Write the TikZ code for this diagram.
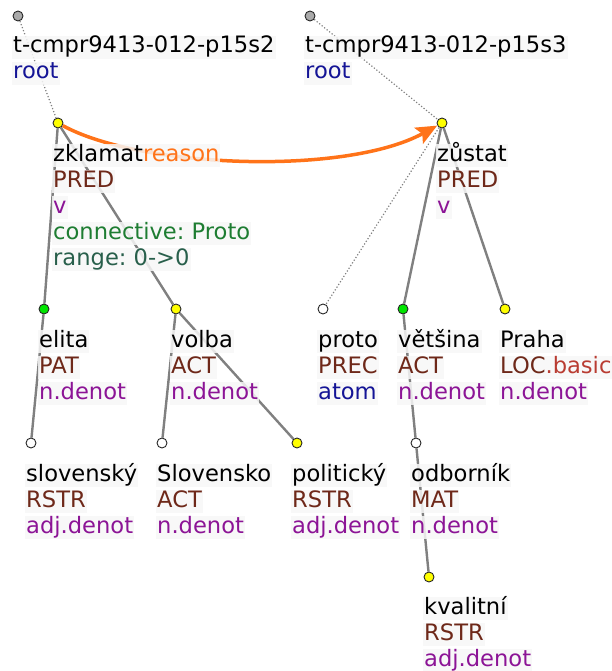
\documentclass[tikz,border=0pt]{standalone}
\usepackage{fontspec}
\setmainfont{DejaVu Sans}
\usetikzlibrary{arrows.meta}
\definecolor{func}{RGB}{110,40,25}
\definecolor{funcsub}{RGB}{185,60,50}
\definecolor{sem}{RGB}{140,20,150}
\definecolor{rootc}{RGB}{20,20,150}
\definecolor{conn}{RGB}{30,125,50}
\definecolor{rng}{RGB}{40,95,75}
\definecolor{orng}{RGB}{255,115,25}
\definecolor{edgec}{RGB}{128,128,128}
\definecolor{ydot}{RGB}{255,255,0}
\definecolor{gdot}{RGB}{0,230,0}
\definecolor{rdot}{RGB}{170,170,170}
\definecolor{bgl}{RGB}{247,247,247}
\pgfdeclarelayer{edges}
\pgfdeclarelayer{labels}
\pgfsetlayers{edges,labels,main}
\frenchspacing
\begin{document}
\begin{tikzpicture}[x=1pt,y=-1pt,
  every node/.style={font=\fontsize{22.6}{26}\selectfont},
  lbl/.style={anchor=base west, inner xsep=1pt, inner ysep=0pt, text height=17pt, text depth=6pt, fill=bgl, fill opacity=0.85, text opacity=1},
  dot/.style={circle, draw=black!85, line width=0.9pt, minimum size=10pt, inner sep=0pt},
  tedge/.style={draw=edgec, line width=2.4pt},
  dedge/.style={draw=edgec, line width=1.2pt, dotted},
  rarrow/.style={draw=orng, line width=3.5pt, -{Stealth[length=21pt,width=18pt,inset=4pt]}}
]
\useasboundingbox (0,0) rectangle (612,671);

% dots
\node[dot, fill=rdot] (r1) at (18,16) {};
\node[dot, fill=rdot] (r2) at (310,16) {};
\node[dot, fill=ydot] (zk) at (58,123) {};
\node[dot, fill=ydot] (zu) at (442,123) {};
\node[dot, fill=gdot] (el) at (44,309) {};
\node[dot, fill=ydot] (vo) at (176,309) {};
\node[dot, fill=white] (pr) at (323,309) {};
\node[dot, fill=gdot] (ve) at (403,309) {};
\node[dot, fill=ydot] (ph) at (505,309) {};
\node[dot, fill=white] (sl) at (31,443) {};
\node[dot, fill=white] (so) at (162,443) {};
\node[dot, fill=ydot] (po) at (297,443) {};
\node[dot, fill=white] (od) at (416,443) {};
\node[dot, fill=ydot] (kv) at (429,577) {};

\begin{pgfonlayer}{edges}
\draw[dedge] (r1) -- (zk);
\draw[dedge] (r2) -- (zu);
\draw[dedge] (zu) -- (pr);
\draw[tedge] (zk) -- (el);
\draw[tedge] (zk) -- (vo);
\draw[tedge] (el) -- (sl);
\draw[tedge] (vo) -- (so);
\draw[tedge] (vo) -- (po);
\draw[tedge] (zu) -- (ve);
\draw[tedge] (zu) -- (ph);
\draw[tedge] (ve) -- (od);
\draw[tedge] (od) -- (kv);
\draw[rarrow] (zk) .. controls (140,168) and (345,176) .. (zu);
\end{pgfonlayer}

\begin{pgfonlayer}{labels}
% roots
\node[lbl] (r1a) at (12,53) {t-cmpr9413-012-p15s2};
\node[lbl, text=rootc] (r1b) at (12,79) {root};
\node[lbl] (r2a) at (304,53) {t-cmpr9413-012-p15s3};
\node[lbl, text=rootc] (r2b) at (304,79) {root};
% zklamat
\node[lbl] (zka) at (52,161) {zklamat{\color{orng}reason}};
\node[lbl, text=func] (zkb) at (52,187) {PRED};
\node[lbl, text=sem] (zkc) at (52,213) {v};
\node[lbl, text=conn] (zkd) at (52,239) {connective: Proto};
\node[lbl, text=rng] (zke) at (52,265) {range: 0->0};
% zustat
\node[lbl] (zua) at (436,161) {zůstat};
\node[lbl, text=func] (zub) at (436,187) {PRED};
\node[lbl, text=sem] (zuc) at (436,213) {v};
% middle row
\node[lbl] (ela) at (38,347) {elita};
\node[lbl, text=func] (elb) at (38,373) {PAT};
\node[lbl, text=sem] (elc) at (38,399) {n.denot};
\node[lbl] (voa) at (170,347) {volba};
\node[lbl, text=func] (vob) at (170,373) {ACT};
\node[lbl, text=sem] (voc) at (170,399) {n.denot};
\node[lbl] (pra) at (317,347) {proto};
\node[lbl, text=func] (prb) at (317,373) {PREC};
\node[lbl, text=rootc] (prc) at (317,399) {atom};
\node[lbl] (vea) at (397,347) {většina};
\node[lbl, text=func] (veb) at (397,373) {ACT};
\node[lbl, text=sem] (vec) at (397,399) {n.denot};
\node[lbl] (pha) at (499,347) {Praha};
\node[lbl, text=func] (phb) at (499,373) {LOC{\color{funcsub}.basic}};
\node[lbl, text=sem] (phc) at (499,399) {n.denot};
% bottom row
\node[lbl] (sla) at (25,481) {slovenský};
\node[lbl, text=func] (slb) at (25,507) {RSTR};
\node[lbl, text=sem] (slc) at (25,533) {adj.denot};
\node[lbl] (soa) at (156,481) {Slovensko};
\node[lbl, text=func] (sob) at (156,507) {ACT};
\node[lbl, text=sem] (soc) at (156,533) {n.denot};
\node[lbl] (poa) at (291,481) {politický};
\node[lbl, text=func] (pob) at (291,507) {RSTR};
\node[lbl, text=sem] (poc) at (291,533) {adj.denot};
\node[lbl] (oda) at (410,481) {odborník};
\node[lbl, text=func] (odb) at (410,507) {MAT};
\node[lbl, text=sem] (odc) at (410,533) {n.denot};
% kvalitni
\node[lbl] (kva) at (423,614) {kvalitní};
\node[lbl, text=func] (kvb) at (423,640) {RSTR};
\node[lbl, text=sem] (kvc) at (423,666) {adj.denot};
\end{pgfonlayer}
\end{tikzpicture}
\end{document}
